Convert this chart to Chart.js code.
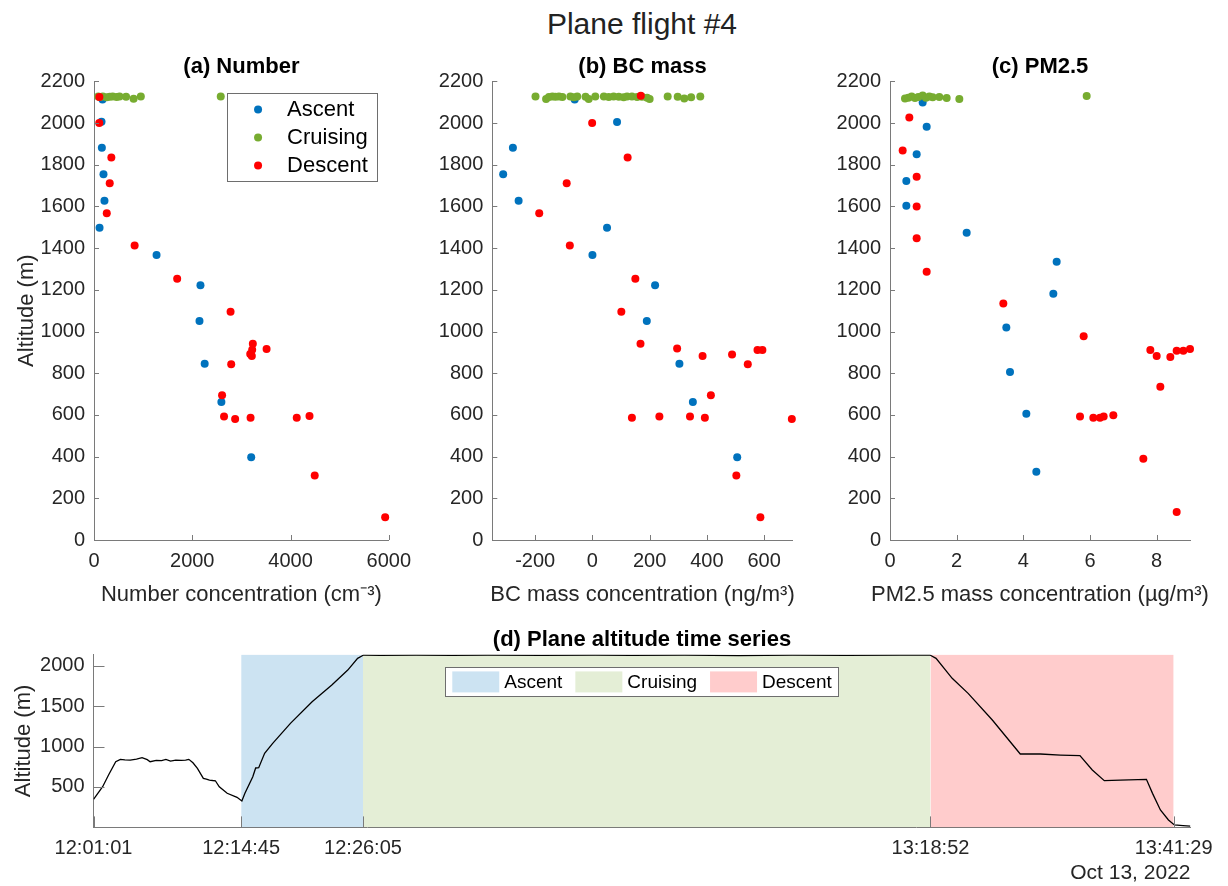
<!DOCTYPE html>
<html lang="en">
<head>
<meta charset="UTF-8">
<title>Plane flight #4</title>
<style>
  body { margin: 0; background: #fff; font-family: 'Liberation Sans', Arial, sans-serif; }
  #page { position: relative; width: 1228px; height: 886px; overflow: hidden; }
  #suptitle { position: absolute; left: 442px; top: 9px; width: 400px; text-align: center;
              font-size: 30px; line-height: 30px; color: #222; }
  .panel { position: absolute; }
</style>
</head>
<body>
<div id="page">
  <div id="suptitle">Plane flight #4</div>
  <div class="panel" style="left:0;top:50px;width:420px;height:557px"><canvas id="chartNumber"></canvas></div>
  <div class="panel" style="left:400px;top:50px;width:420px;height:557px"><canvas id="chartBC"></canvas></div>
  <div class="panel" style="left:800px;top:50px;width:428px;height:557px"><canvas id="chartPM"></canvas></div>
  <div class="panel" style="left:0;top:626px;width:1228px;height:260px"><canvas id="chartAlt"></canvas></div>
</div>

<script src="https://cdn.jsdelivr.net/npm/chart.js"></script>
<script>
// ---- data ----
const altTicks = [0, 200, 400, 600, 800, 1000, 1200, 1400, 1600, 1800, 2000, 2200];

// (a) number concentration, cm-3
const numTicks = [0, 2000, 4000, 6000];
const numAscentX = [173, 153, 160, 193, 213, 113, 1273, 2167, 2147, 2253, 2593, 3200];
const numAscentY = [2113, 2006, 1882, 1754, 1627, 1498, 1367, 1222, 1050, 846, 662, 397];
const numCruiseX = [86, 120, 180, 260, 320, 380, 460, 520, 653, 806, 953, 2580];
const numCruiseY = [2127, 2125, 2128, 2124, 2126, 2128, 2125, 2127, 2126, 2117, 2127, 2127];
const numDescentX = [110, 107, 353, 320, 260, 827, 1693, 2780, 3233, 3513, 3220, 3180, 3213, 2793, 2607, 2647, 2873, 3187, 4127, 4387, 4493, 5927];
const numDescentY = [2125, 2001, 1835, 1712, 1568, 1413, 1253, 1095, 942, 916, 913, 892, 883, 843, 694, 593, 580, 587, 587, 595, 309, 109];

// (b) BC mass, ng/m3
const bcTicks = [-200, 0, 200, 400, 600];
const bcAscentX = [-62, 86, -278, -312, -258, 51, 0, 219, 190, 304, 351, 506];
const bcAscentY = [2113, 2005, 1882, 1754, 1627, 1498, 1367, 1222, 1050, 846, 662, 397];
const bcCruiseX = [-199, -162, -152, -140, -129, -117, -105, -77, -65, -53, -24, -13, 10, 40, 57, 74, 92, 109, 121, 138, 156, 173, 191, 200, 263, 298, 321, 345, 377];
const bcCruiseY = [2127, 2116, 2125, 2128, 2126, 2127, 2125, 2127, 2124, 2128, 2126, 2115, 2127, 2128, 2125, 2127, 2126, 2124, 2128, 2127, 2125, 2126, 2122, 2116, 2127, 2126, 2118, 2124, 2127];
const bcDescentX = [169, -1, 123, -90, -186, -79, 150, 101, 168, 296, 577, 594, 488, 385, 543, 414, 234, 341, 138, 393, 697, 503, 587];
const bcDescentY = [2131, 2000, 1835, 1712, 1568, 1413, 1253, 1095, 942, 919, 911, 911, 890, 883, 843, 694, 593, 593, 587, 587, 580, 309, 109];

// (c) PM2.5, ug/m3
const pmTicks = [0, 2, 4, 6, 8];
const pmAscentX = [0.98, 1.10, 0.80, 0.49, 0.49, 2.30, 5.00, 4.90, 3.49, 3.60, 4.09, 4.39];
const pmAscentY = [2099, 1982, 1851, 1722, 1604, 1474, 1335, 1181, 1020, 806, 606, 328];
const pmCruiseX = [0.45, 0.55, 0.65, 0.75, 0.85, 0.98, 1.08, 1.18, 1.28, 1.48, 1.70, 2.08, 5.90];
const pmCruiseY = [2118, 2122, 2127, 2120, 2125, 2132, 2122, 2128, 2124, 2125, 2120, 2115, 2130];
const pmDescentX = [0.58, 0.38, 0.80, 0.80, 0.80, 1.10, 3.40, 5.81, 7.81, 8.00, 8.41, 8.60, 8.80, 9.00, 8.11, 5.70, 6.10, 6.30, 6.41, 6.70, 7.60, 8.60];
const pmDescentY = [2027, 1869, 1743, 1600, 1447, 1287, 1135, 978, 911, 883, 878, 908, 908, 916, 735, 593, 587, 587, 593, 598, 390, 134];

// (d) altitude time series, seconds after 12:01:01
const timeTickLabels = ['12:01:01', '12:14:45', '12:26:05', '13:18:52', '13:41:29'];
const timeAxisEnd = '13:43:03';
const phaseNames = ['Ascent', 'Cruising', 'Descent'];
const phaseBounds = ['12:14:45', '12:26:05', '13:18:52', '13:41:29'];
const altSeriesTicks = [500, 1000, 1500, 2000];
const flightTime = [0, 51, 84, 124, 150, 175, 205, 240, 271, 300, 316, 350, 380, 404, 430, 459, 490, 514, 532, 555,
  580, 613, 630, 647, 665, 680, 702, 746, 801, 828, 845, 889, 905, 922, 955, 1000, 1099, 1220, 1330, 1419,
  1474, 1507, 1600, 1800, 2000, 2200, 2500, 2800, 3000, 3300, 3600, 3900, 4200, 4500, 4668, 4702, 4792, 4881, 5016, 5172,
  5284, 5396, 5505, 5574, 5641, 5730, 5876, 5910, 5954, 5999, 6032, 6080, 6121];
const flightAlt = [347, 503, 648, 812, 842, 836, 833, 845, 862, 838, 812, 830, 825, 842, 820, 833, 828, 833, 842, 800,
  731, 607, 598, 586, 580, 577, 503, 422, 372, 326, 422, 627, 735, 738, 916, 1040, 1287, 1554, 1761, 1946,
  2091, 2132, 2128, 2131, 2127, 2131, 2128, 2132, 2127, 2130, 2126, 2131, 2128, 2130, 2132, 2091, 1844, 1658, 1328, 908,
  908, 895, 887, 710, 578, 586, 595, 421, 215, 92, 30, 22, 17];

// ---- styling ----
const FONT = "'Liberation Sans', Arial, Helvetica, sans-serif";
const TEXT = '#262626';
const AXIS = '#7a7a7a';
const BLUE = '#0072BD', GREEN = '#77AC30', RED = '#FF0000';
const phaseFill = ['rgba(0,114,189,0.2)', 'rgba(119,172,48,0.2)', 'rgba(255,0,0,0.2)'];
Chart.defaults.font.family = FONT;

function toSec(s) {
  const p = s.split(':').map(Number);
  return p[0] * 3600 + p[1] * 60 + p[2];
}
const t0 = toSec(timeTickLabels[0]);
const pts = (xs, ys) => xs.map((x, i) => ({ x: x, y: ys[i] }));
const plain = v => String(v);

// MATLAB style ticks pointing into the plot
const innerTicks = {
  id: 'innerTicks',
  afterDatasetsDraw(chart, args, o) {
    const { ctx, chartArea: a, scales } = chart;
    const len = o.length || 5;
    ctx.save();
    ctx.strokeStyle = AXIS;
    ctx.lineWidth = 1;
    ctx.beginPath();
    scales.x.ticks.forEach(t => {
      const px = Math.round(scales.x.getPixelForValue(t.value)) + 0.5;
      ctx.moveTo(px, a.bottom);
      ctx.lineTo(px, a.bottom - len);
    });
    scales.y.ticks.forEach(t => {
      const py = Math.round(scales.y.getPixelForValue(t.value)) + 0.5;
      ctx.moveTo(a.left, py);
      ctx.lineTo(a.left + len, py);
    });
    ctx.stroke();
    ctx.restore();
  }
};

// x label under the axes (scale titles get squeezed to the axis width)
const xLabel = {
  id: 'xLabel',
  afterDraw(chart, args, o) {
    if (!o.text) return;
    const { ctx, chartArea: a } = chart;
    ctx.save();
    ctx.font = o.font;
    ctx.fillStyle = TEXT;
    ctx.textAlign = 'center';
    ctx.textBaseline = 'middle';
    ctx.fillText(o.text, (a.left + a.right) / 2, a.bottom + o.offset);
    ctx.restore();
  }
};

// boxed legend inside the axes
const insetLegend = {
  id: 'insetLegend',
  afterDraw(chart, args, o) {
    if (!o.items) return;
    const { ctx, chartArea: a } = chart;
    ctx.save();
    ctx.font = o.font;
    const widths = o.items.map(it => ctx.measureText(it.text).width);
    const h = o.height;
    let w;
    if (o.vertical) {
      w = o.textX + Math.max(...widths) + o.padRight;
    } else {
      w = o.padLeft + widths.reduce((s, tw) => s + o.swatchW + o.swatchGap + tw, 0)
        + o.itemGap * (widths.length - 1) + o.padRight;
    }
    const x0 = o.center ? (a.left + a.right) / 2 - w / 2 : a.right - o.right - w;
    const y0 = a.top + o.top;
    ctx.fillStyle = '#fff';
    ctx.fillRect(x0, y0, w, h);
    ctx.strokeStyle = '#6e6e6e';
    ctx.lineWidth = 1;
    ctx.strokeRect(Math.round(x0) + 0.5, Math.round(y0) + 0.5, Math.round(w), Math.round(h));
    ctx.textBaseline = 'middle';
    ctx.textAlign = 'left';
    if (o.vertical) {
      o.items.forEach((it, i) => {
        const cy = y0 + o.rowTop + i * o.rowStep;
        ctx.fillStyle = it.color;
        ctx.beginPath();
        ctx.arc(x0 + o.markerX, cy, o.markerR, 0, Math.PI * 2);
        ctx.fill();
        ctx.fillStyle = '#000';
        ctx.fillText(it.text, x0 + o.textX, cy + 1);
      });
    } else {
      let x = x0 + o.padLeft;
      const cy = y0 + h / 2;
      o.items.forEach((it, i) => {
        ctx.fillStyle = it.color;
        ctx.fillRect(x, cy - o.swatchH / 2, o.swatchW, o.swatchH);
        x += o.swatchW + o.swatchGap;
        ctx.fillStyle = '#000';
        ctx.fillText(it.text, x, cy + 1);
        x += widths[i] + o.itemGap;
      });
    }
    ctx.restore();
  }
};

function scatterPanel(id, c) {
  return new Chart(document.getElementById(id), {
    type: 'scatter',
    data: {
      datasets: [
        { label: 'Descent', data: pts(c.desX, c.desY), backgroundColor: RED, order: 0 },
        { label: 'Cruising', data: pts(c.cruX, c.cruY), backgroundColor: GREEN, order: 1 },
        { label: 'Ascent', data: pts(c.ascX, c.ascY), backgroundColor: BLUE, order: 2 }
      ]
    },
    options: {
      responsive: true,
      maintainAspectRatio: false,
      animation: false,
      events: [],
      layout: { padding: { left: 0, right: c.padRight, top: 0, bottom: 0 } },
      elements: { point: { radius: 4, borderWidth: 0, hoverRadius: 4 } },
      datasets: { scatter: { clip: false } },
      scales: {
        x: {
          type: 'linear', min: c.xMin, max: c.xMax,
          afterBuildTicks: s => { s.ticks = c.xTicks.map(v => ({ value: v })); },
          afterFit: s => { s.height = 67; },
          grid: { display: false, drawTicks: false },
          border: { display: true, color: AXIS, width: 1 },
          ticks: { font: { size: 20 }, color: TEXT, padding: 9, maxRotation: 0, autoSkip: false, callback: plain },
          title: { display: false }
        },
        y: {
          type: 'linear', min: 0, max: 2200,
          afterBuildTicks: s => { s.ticks = altTicks.map(v => ({ value: v })); },
          afterFit: s => { s.width = c.yWidth; },
          grid: { display: false, drawTicks: false },
          border: { display: true, color: AXIS, width: 1 },
          ticks: { font: { size: 20 }, color: TEXT, padding: 9, autoSkip: false, callback: plain },
          title: c.yTitle
            ? { display: true, text: c.yTitle, font: { size: 22 }, color: TEXT, padding: { top: 14, bottom: 0 } }
            : { display: false }
        }
      },
      plugins: {
        legend: { display: false },
        tooltip: { enabled: false },
        title: {
          display: true, text: c.title, color: '#000', fullSize: false,
          font: { size: 22, weight: 'bold' }, padding: { top: 4, bottom: 1 }
        },
        innerTicks: { length: 5 },
        xLabel: { text: c.xTitle, font: '22px ' + FONT, offset: 55 },
        insetLegend: c.legend || {}
      }
    },
    plugins: [innerTicks, xLabel, insetLegend]
  });
}

scatterPanel('chartNumber', {
  title: '(a) Number', xTitle: 'Number concentration (cm\u207B\u00B3)', yTitle: 'Altitude (m)',
  xMin: 0, xMax: 6000, xTicks: numTicks, yWidth: 94, padRight: 26,
  ascX: numAscentX, ascY: numAscentY, cruX: numCruiseX, cruY: numCruiseY, desX: numDescentX, desY: numDescentY,
  legend: {
    vertical: true, font: '22px ' + FONT, right: 12, top: 12, height: 88,
    rowTop: 16, rowStep: 28, markerX: 31, markerR: 4, textX: 60, padRight: 9,
    items: [
      { text: 'Ascent', color: BLUE },
      { text: 'Cruising', color: GREEN },
      { text: 'Descent', color: RED }
    ]
  }
});

scatterPanel('chartBC', {
  title: '(b) BC mass', xTitle: 'BC mass concentration (ng/m\u00B3)', yTitle: null,
  xMin: -350, xMax: 700, xTicks: bcTicks, yWidth: 92.3, padRight: 27.3,
  ascX: bcAscentX, ascY: bcAscentY, cruX: bcCruiseX, cruY: bcCruiseY, desX: bcDescentX, desY: bcDescentY
});

scatterPanel('chartPM', {
  title: '(c) PM2.5', xTitle: 'PM2.5 mass concentration (\u00B5g/m\u00B3)', yTitle: null,
  xMin: 0, xMax: 9, xTicks: pmTicks, yWidth: 90, padRight: 38,
  ascX: pmAscentX, ascY: pmAscentY, cruX: pmCruiseX, cruY: pmCruiseY, desX: pmDescentX, desY: pmDescentY
});

// (d) altitude time series with shaded flight phases
const timeTickSec = timeTickLabels.map(s => toSec(s) - t0);
const phaseSec = phaseBounds.map(s => toSec(s) - t0);
const shadeTop = 2140;

new Chart(document.getElementById('chartAlt'), {
  type: 'line',
  data: {
    datasets: [
      {
        label: 'Altitude', data: pts(flightTime, flightAlt), borderColor: '#000', borderWidth: 1.3,
        pointRadius: 0, tension: 0, fill: false, order: 0
      },
      ...phaseNames.map((name, i) => ({
        label: name,
        data: [{ x: phaseSec[i], y: shadeTop }, { x: phaseSec[i + 1], y: shadeTop }],
        fill: 'origin', backgroundColor: phaseFill[i], borderColor: 'rgba(0,0,0,0)', borderWidth: 0,
        pointRadius: 0, order: 1
      }))
    ]
  },
  options: {
    responsive: true,
    maintainAspectRatio: false,
    animation: false,
    events: [],
    layout: { padding: { left: 0, right: 37.5, top: 0, bottom: 0 } },
    scales: {
      x: {
        type: 'linear', min: 0, max: toSec(timeAxisEnd) - t0,
        afterBuildTicks: s => { s.ticks = timeTickSec.map(v => ({ value: v })); },
        afterFit: s => { s.height = 58.6; },
        grid: { display: false, drawTicks: false },
        border: { display: true, color: AXIS, width: 1 },
        ticks: {
          font: { size: 20 }, color: TEXT, padding: 9, maxRotation: 0, autoSkip: false,
          callback: v => timeTickLabels[timeTickSec.indexOf(v)]
        },
        title: { display: true, text: 'Oct 13, 2022', align: 'end', font: { size: 21 }, color: TEXT, padding: 0 }
      },
      y: {
        type: 'linear', min: 0, max: shadeTop,
        afterBuildTicks: s => { s.ticks = altSeriesTicks.map(v => ({ value: v })); },
        afterFit: s => { s.width = 93.5; },
        grid: { display: false, drawTicks: false },
        border: { display: true, color: AXIS, width: 1 },
        ticks: { font: { size: 20 }, color: TEXT, padding: 9, autoSkip: false, callback: plain },
        title: { display: true, text: 'Altitude (m)', font: { size: 22 }, color: TEXT, padding: { top: 11, bottom: 0 } }
      }
    },
    plugins: {
      legend: { display: false },
      tooltip: { enabled: false },
      title: {
        display: true, text: '(d) Plane altitude time series', color: '#000', fullSize: false,
        font: { size: 22, weight: 'bold' }, padding: { top: 1, bottom: 1 }
      },
      innerTicks: { length: 11 },
      insetLegend: {
        vertical: false, center: true, font: '19px ' + FONT, top: 13, height: 29,
        padLeft: 7, swatchW: 47, swatchH: 21, swatchGap: 5, itemGap: 13, padRight: 7,
        items: phaseNames.map((n, i) => ({ text: n, color: phaseFill[i] }))
      }
    }
  },
  plugins: [innerTicks, insetLegend]
});
</script>
</body>
</html>
